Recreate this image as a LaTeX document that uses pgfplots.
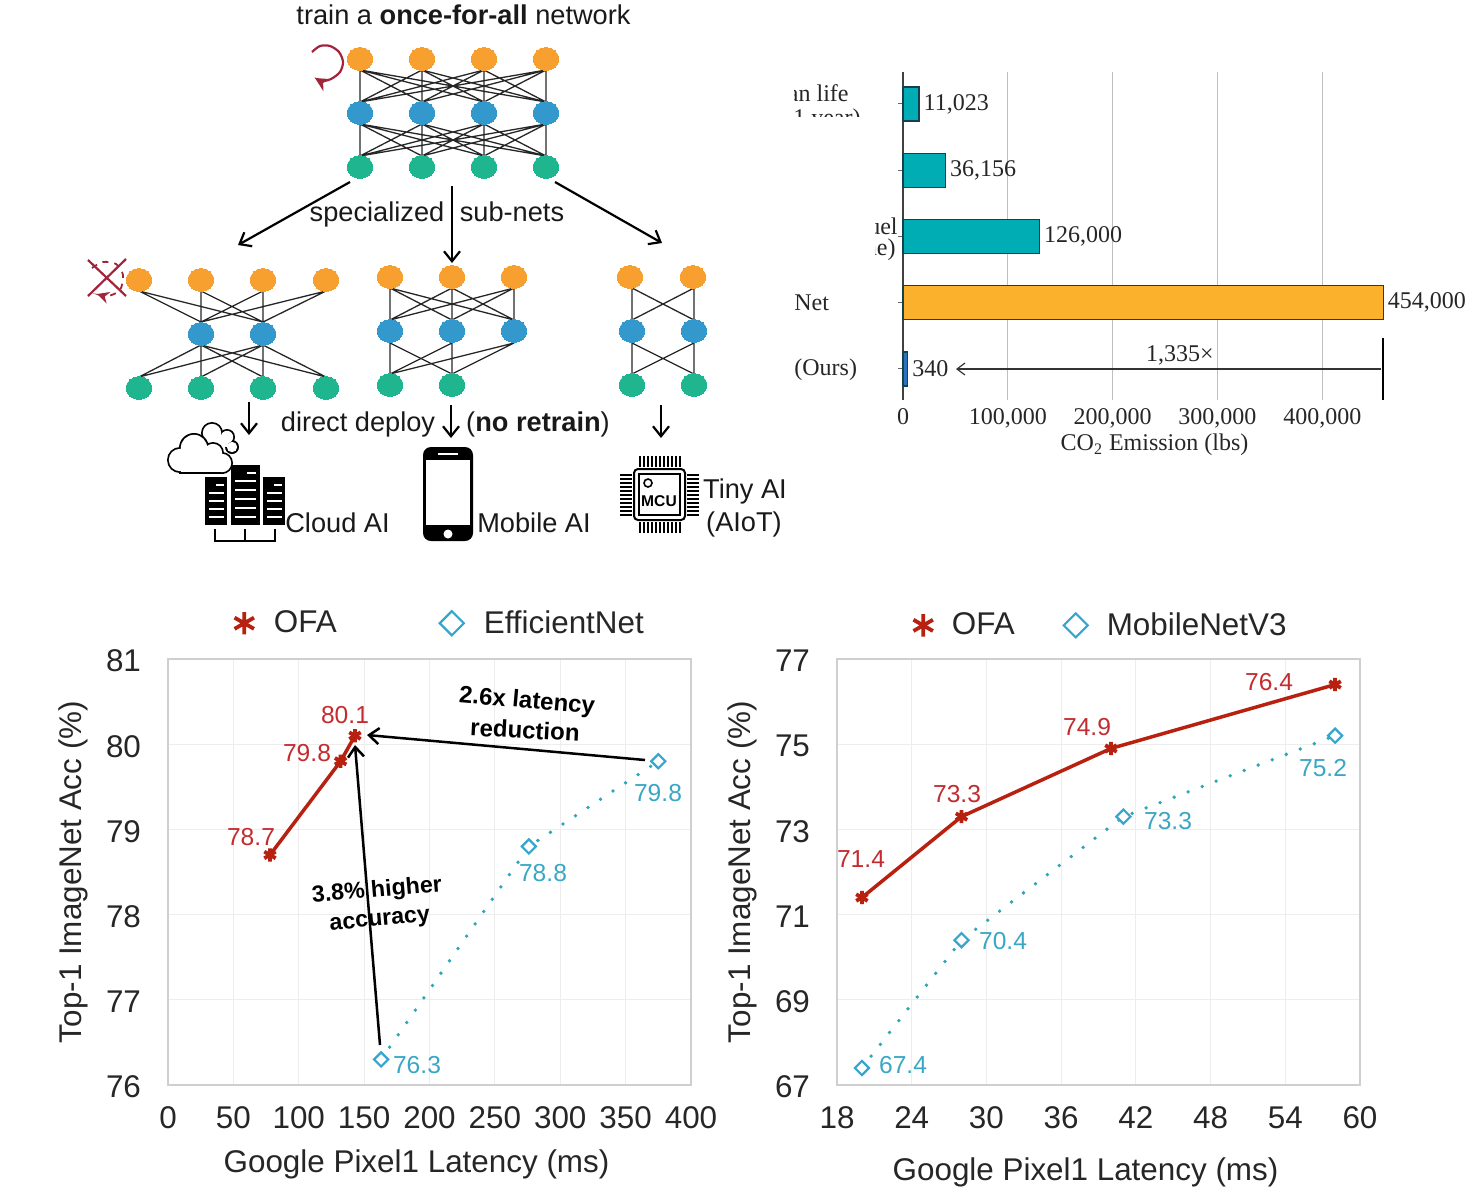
\documentclass[border=0pt]{standalone}
\usepackage{fontspec}
\setmainfont{Liberation Sans}
\newfontfamily\timesf{Liberation Serif}
\usepackage{pgfplots}
\usepackage{pgfplotstable}
\pgfplotsset{compat=1.18}
\usetikzlibrary{arrows.meta}
\newcommand{\fs}[1]{\fontsize{#1}{#1}\selectfont}
\definecolor{ofared}{HTML}{B8200F}
\definecolor{ofatxt}{HTML}{C42B2E}
\definecolor{cmpblue}{HTML}{35A6CF}
\definecolor{cmptxt}{HTML}{39A7C4}
\definecolor{cmpdot}{HTML}{2FA6B8}
\definecolor{norange}{HTML}{F7A030}
\definecolor{nblue}{HTML}{3399CC}
\definecolor{ngreen}{HTML}{1FB58F}
\definecolor{darkred}{HTML}{A3233A}
\definecolor{barteal}{HTML}{00ADB5}
\definecolor{barorange}{HTML}{FBB12B}
\definecolor{barblue}{HTML}{2B74BD}
\definecolor{barline}{HTML}{17404F}

\pgfplotstableread{
x y
78 78.7
132 79.8
143 80.1
}\ofaleft
\pgfplotstableread{
x y
163 76.3
276 78.8
375 79.8
}\effnet
\pgfplotstableread{
x y
20 71.4
28 73.3
40 74.9
58 76.4
}\ofaright
\pgfplotstableread{
x y
20 67.4
28 70.4
41 73.3
58 75.2
}\mbv

\pgfplotsset{
  latency/.style={
    anchor=south west,width=261.5pt,height=213pt,scale only axis,
    grid=major,grid style={draw=gray!14,line width=.6pt},
    axis line style={draw=gray!38,line width=.6pt},
    tick style={draw=none},
    font=\fs{15.7},
    /pgf/number format/assume math mode=true,
    xlabel={Google Pixel1 Latency (ms)},
    ylabel={Top-1 ImageNet Acc (\%)},
    tick label style={text=black!85},
    label style={text=black!85},
    xticklabel style={yshift=-7.5pt},
    yticklabel style={xshift=-10pt,yshift=-1pt},
    ylabel style={yshift=2pt},
    legend style={draw=none,fill=none,font=\fs{15.7},text=black!85,
      legend columns=2},
    legend image post style={scale=1.7},
    legend cell align=left,
    clip=false,
  },
  ofaline/.style={ofared,line width=1.75pt,no marks,forget plot},
  ofamark/.style={only marks,mark=asterisk,
    mark options={ofared,line width=1.9pt,solid},mark size=3.3pt},
  cmpline/.style={cmpdot,line width=1.9pt,line cap=round,
    dash pattern=on 0pt off 7.5pt,no marks,forget plot},
  cmpmark/.style={only marks,mark=square*,
    mark options={cmpblue,rotate=45,line width=1.1pt,solid,fill=white},mark size=2.5pt},
  netnode/.style={only marks,mark=*,mark size=5.7pt,color=#1,
    mark options={xscale=1.13,draw=#1,fill=#1,line width=0pt}},
  netedge/.style={black!85,line width=.65pt,line join=round,no marks},
  bigarrow/.style={black,line width=1.1pt,no marks,-{Straight Barb[length=5pt,width=8pt]}},
  chartbar/.style={xbar,bar shift=0pt,bar width=17pt,draw=barline,line width=.7pt,fill=#1},
}

\begin{document}
\begin{tikzpicture}
\path[use as bounding box] (0,0) rectangle (736pt,595pt);

% left latency chart
\begin{axis}[latency,at={(84pt,52.5pt)},
  xmin=0,xmax=400,ymin=76,ymax=81,
  xtick={0,50,...,400},ytick={76,...,81},
  xlabel style={xshift=-6.5pt,yshift=-3.5pt},
  legend style={at={(0.115,1.034)},anchor=south west},
  /tikz/every even column/.append style={column sep=49.5pt},
]
\addplot[ofaline] table {\ofaleft};
\addplot[ofamark] table {\ofaleft};
\addlegendentry{\hspace{8pt}OFA}
\addplot[cmpline] table {\effnet};
\addplot[cmpmark] table {\effnet};
\addlegendentry{\hspace{8pt}EfficientNet}
\end{axis}

% right latency chart
\begin{axis}[latency,at={(418.5pt,52.5pt)},
  xmin=18,xmax=60,ymin=67,ymax=77,
  xtick={18,24,...,60},ytick={67,69,...,77},
  xlabel style={xshift=-6.5pt,yshift=-7.5pt},
  legend style={at={(0.134,1.029)},anchor=south west},
  /tikz/every even column/.append style={column sep=22.5pt},
]
\addplot[ofaline] table {\ofaright};
\addplot[ofamark] table {\ofaright};
\addlegendentry{\hspace{7.5pt}OFA}
\addplot[cmpline] table {\mbv};
\addplot[cmpmark] table {\mbv};
\addlegendentry{\hspace{7.5pt}MobileNetV3}
\end{axis}

% CO2 bars; the figure draws each bar about 4200 lbs past its value
\begin{axis}[at={(451.5pt,395pt)},anchor=south west,scale only axis,
  width=283pt,height=164pt,
  xmin=0,xmax=540000,ymin=-0.483,ymax=4.468,y dir=reverse,
  axis lines=left,axis line style={-},
  x axis line style={draw=none},
  y axis line style={draw=black!75,line width=.6pt},
  xtick={0,100000,200000,300000,400000},
  xticklabels={0,{100,000},{200,000},{300,000},{400,000}},
  ytick={0,1,2,3,4},yticklabels={},
  tick align=outside,major tick length=2.5pt,
  xtick style={draw=none},ytick style={draw=black!60,line width=.5pt},
  x grid style={draw=gray!50,line width=.5pt},xmajorgrids,
  scaled x ticks=false,
  font=\timesf\fs{12},
  tick label style={text=black!85},label style={text=black!85},
  xticklabel style={yshift=2pt},
  xlabel={CO\textsubscript{2} Emission (lbs)},
  xlabel style={at={(axis cs:240000,4.468)},anchor=north,yshift=-13.5pt},
  point meta=explicit symbolic,
  nodes near coords,
  nodes near coords style={anchor=west,inner sep=0pt,xshift=2pt,text=black!85,font=\timesf\fs{12}},
  clip=false,
  x filter/.code={\pgfmathparse{\pgfmathresult+4200}},
]
\addplot[chartbar=barteal] coordinates {(11023,0) [{11,023}] (36156,1) [{36,156}] (126000,2) [{126,000}]};
\addplot[chartbar=barorange] coordinates {(454000,3) [{454,000}]};
\addplot[chartbar=barblue] coordinates {(340,4) [340]};
\end{axis}

% network diagram and annotations, in picture pixels
\begin{axis}[at={(0pt,0pt)},anchor=south west,scale only axis,width=736pt,height=595pt,
  xmin=0,xmax=1472,ymin=0,ymax=1190,y dir=reverse,hide axis,clip=false,
  unbounded coords=jump]

% once-for-all net
\addplot[netedge] coordinates {(360,70)(360,102)(422,70)(422,102)(484,70)(484,102)(546,70)(546,102)(360,70)
  (422,102)(546,70)(360,102)(484,70)(546,102)(422,70)(484,102)(360,70)};
\addplot[netedge] coordinates {(360,124)(360,156)(422,124)(422,156)(484,124)(484,156)(546,124)(546,156)(360,124)
  (422,156)(546,124)(360,156)(484,124)(546,156)(422,124)(484,156)(360,124)};
\addplot[netnode=norange] coordinates {(360,59)(422,59)(484,59)(546,59)};
\addplot[netnode=nblue] coordinates {(360,113)(422,113)(484,113)(546,113)};
\addplot[netnode=ngreen] coordinates {(360,167)(422,167)(484,167)(546,167)};

% sub-net 4-2-4
\addplot[netedge] coordinates {(139,291)(201,322)(201,291)(263,322)(263,291)(201,322)(326,291)(263,322)(139,291)};
\addplot[netedge] coordinates {(139,377)(201,345)(201,377)(263,345)(263,377)(201,345)(326,377)(263,345)(139,377)};
\addplot[netnode=norange] coordinates {(139,280)(201,280)(263,280)(326,280)};
\addplot[netnode=nblue] coordinates {(201,334)(263,334)};
\addplot[netnode=ngreen] coordinates {(139,388)(201,388)(263,388)(326,388)};

% sub-net 3-3-2
\addplot[netedge] coordinates {(390,288)(390,320)(452,288)(452,320)(514,288)(514,320)(390,288)(452,320)(514,288)(390,320)(452,288)(514,320)};
\addplot[netedge] coordinates {(390,343)(390,374)(452,343)(452,374)(514,343)(390,374)};
\addplot[netedge] coordinates {(390,343)(452,374)};
\addplot[netnode=norange] coordinates {(390,277)(452,277)(514,277)};
\addplot[netnode=nblue] coordinates {(390,331)(452,331)(514,331)};
\addplot[netnode=ngreen] coordinates {(390,385)(452,385)};

% sub-net 2-2-2
\addplot[netedge] coordinates {(632,288)(632,320)(694,288)(694,320)(632,288)};
\addplot[netedge] coordinates {(632,343)(632,374)(694,343)(694,374)(632,343)};
\addplot[netnode=norange] coordinates {(630,277)(693,277)};
\addplot[netnode=nblue] coordinates {(632,331)(694,331)};
\addplot[netnode=ngreen] coordinates {(632,385)(694,385)};

% arrows of the diagram
\addplot[bigarrow] coordinates {(350,182)(238,245)};
\addplot[bigarrow] coordinates {(452,186)(452,263)};
\addplot[bigarrow] coordinates {(555,182)(662,243)};
\addplot[bigarrow] coordinates {(249,402)(249,435)};
\addplot[bigarrow] coordinates {(451,405)(451,438)};
\addplot[bigarrow] coordinates {(661,405)(661,438)};

% retrain loop
\addplot[darkred,line width=1.1pt,smooth,no marks,-{Stealth[length=7pt,width=7pt]}] coordinates {
  (312,52)(320,46)(330,46)(339,52)(343,62)(340,72)(331,79)(322,81)(315,78)};

% removed node mark
\addplot[darkred,line width=1.1pt,no marks] coordinates {(88,260)(126,296)};
\addplot[darkred,line width=1.1pt,no marks] coordinates {(126,259)(88,296)};
\addplot[darkred,line width=.9pt,smooth,dashed,no marks,-{Stealth[length=6pt,width=6pt]}] coordinates {
  (92,268)(103,262)(116,264)(123,275)(120,290)(108,296)(97,294)};

% text
\node[font=\fs{13.6},text=black!90] at (463.5,15) {train a \textbf{once-for-all} network};
\node[font=\fs{13.6},text=black!90,anchor=base] at (377,221) {specialized};
\node[font=\fs{13.6},text=black!90,anchor=base] at (512,221) {sub-nets};
\node[font=\fs{13.6},text=black!90,anchor=base] at (358,431) {direct deploy};
\node[font=\fs{13.6},text=black!90,anchor=base] at (538,431) {(\textbf{no retrain})};
\node[font=\fs{13.6},text=black!90] at (337.5,523) {Cloud AI};
\node[font=\fs{13.6},text=black!90] at (534,523) {Mobile AI};
\node[font=\fs{13.6},text=black!90] at (745,491.5) {Tiny AI};
\node[font=\fs{13.6},text=black!90] at (744,524.5) {(AIoT)};

% servers
\fill[black] (205,477) rectangle (227,525);
\fill[black] (231,465) rectangle (260,525);
\fill[black] (263,477) rectangle (285,525);
\pgfplotsinvokeforeach{493,501,509,517}{
  \draw[white,line width=.7pt] (209,#1)--(224,#1);
  \draw[white,line width=.7pt] (267,#1)--(282,#1);}
\pgfplotsinvokeforeach{481,490,499,508,517}{
  \draw[white,line width=.7pt] (235,#1)--(256,#1);}
\draw[white,line width=.9pt] (216,485)--(224,485);
\draw[white,line width=.9pt] (247,473)--(256,473);
\draw[white,line width=.9pt] (274,485)--(282,485);
\draw[black,line width=.7pt] (215,529)--(215,541)--(275,541)--(275,529);
\draw[black,line width=.7pt] (245,529)--(245,541);

% clouds
\fill[black] (212,433) circle[radius=11];
\fill[black] (227,437) circle[radius=8];
\fill[black] (232,447) circle[radius=7];
\fill[white] (212,433) circle[radius=9.2];
\fill[white] (227,437) circle[radius=6.2];
\fill[white] (232,447) circle[radius=5.2];
\fill[white] (205,435) rectangle (228,447);
\fill[black] (179,462) rectangle (224,474);
\fill[black] (180,460) circle[radius=13];
\fill[black] (194,448) circle[radius=15];
\fill[black] (213,453) circle[radius=11];
\fill[black] (222,463) circle[radius=11];
\fill[white] (181,462) rectangle (224,472);
\fill[white] (180,460) circle[radius=11.2];
\fill[white] (194,448) circle[radius=13.2];
\fill[white] (213,453) circle[radius=9.2];
\fill[white] (222,463) circle[radius=9.2];
\fill[white] (185,450) rectangle (218,466);

% phone
\fill[black,rounded corners=4pt] (423,447) rectangle (473,541);
\fill[white] (426,460) rectangle (470,525);
\draw[white,line width=1pt] (438,453.5)--(458,453.5);
\fill[white] (448,534) circle[radius=4.5];

% MCU chip
\draw[black,line width=1pt,rounded corners=2pt] (634,469) rectangle (685,520);
\draw[black,line width=1pt] (639,474) rectangle (680,515);
\draw[black,line width=.8pt] (648,483) circle[radius=4];
\node[font=\bfseries\fs{7.8},inner sep=0pt] at (659,501) {MCU};
\pgfplotsinvokeforeach{640,644,648,652,656,660,664,668,672,676,680}{
  \draw[black,line width=.55pt] (#1,456)--(#1,467);
  \draw[black,line width=.55pt] (#1,522)--(#1,533);}
\pgfplotsinvokeforeach{475,479,483,487,491,495,499,503,507,511,515}{
  \draw[black,line width=.55pt] (620,#1)--(632,#1);
  \draw[black,line width=.55pt] (687,#1)--(699,#1);}

% bar chart labels, cut off as in the figure
\begin{scope}
\clip (794,80) rectangle (870,116);
\node[font=\timesf\fs{12},anchor=east,inner sep=0pt,text=black!85] at (849,93) {Human life};
\node[font=\timesf\fs{12},anchor=east,inner sep=0pt,text=black!85] at (861,120) {1 year)};
\end{scope}
\begin{scope}
\clip (875,210) rectangle (900,265);
\node[font=\timesf\fs{12},anchor=east,inner sep=0pt,text=black!85] at (898,226) {fuel};
\node[font=\timesf\fs{12},anchor=east,inner sep=0pt,text=black!85] at (896,250) {time)};
\end{scope}
\node[font=\timesf\fs{12},anchor=west,inner sep=0pt,text=black!85] at (794,303) {Net};
\node[font=\timesf\fs{12},anchor=west,inner sep=0pt,text=black!85] at (794,370) {(Ours)};
\node[font=\timesf\fs{12},text=black!85,inner sep=0pt] at (1180,355) {1,335×};
\addplot[black!80,line width=.6pt,no marks,-{Straight Barb[length=4pt,width=6pt]}] coordinates {(1381,369)(956,369)};
\addplot[black,line width=.8pt,no marks] coordinates {(1383,338)(1383,400)};

% value labels, left chart
\node[font=\fs{12.3},text=ofatxt,inner sep=0pt] at (345,715) {80.1};
\node[font=\fs{12.3},text=ofatxt,inner sep=0pt] at (307,753) {79.8};
\node[font=\fs{12.3},text=ofatxt,inner sep=0pt] at (251,837) {78.7};
\node[font=\fs{12.3},text=cmptxt,inner sep=0pt] at (658,793) {79.8};
\node[font=\fs{12.3},text=cmptxt,inner sep=0pt] at (543,873) {78.8};
\node[font=\fs{12.3},text=cmptxt,inner sep=0pt] at (417,1065) {76.3};
% value labels, right chart
\node[font=\fs{12.3},text=ofatxt,inner sep=0pt] at (861,859) {71.4};
\node[font=\fs{12.3},text=ofatxt,inner sep=0pt] at (957,794) {73.3};
\node[font=\fs{12.3},text=ofatxt,inner sep=0pt] at (1087,727) {74.9};
\node[font=\fs{12.3},text=ofatxt,inner sep=0pt] at (1269,682) {76.4};
\node[font=\fs{12.3},text=cmptxt,inner sep=0pt] at (903,1065) {67.4};
\node[font=\fs{12.3},text=cmptxt,inner sep=0pt] at (1003,941) {70.4};
\node[font=\fs{12.3},text=cmptxt,inner sep=0pt] at (1168,821) {73.3};
\node[font=\fs{12.3},text=cmptxt,inner sep=0pt] at (1323,768) {75.2};

% callouts
\addplot[bigarrow,line width=1.25pt] coordinates {(645,760)(367,735)};
\addplot[bigarrow,line width=1.25pt] coordinates {(380,1045)(355,745)};
\node[font=\bfseries\fs{12},rotate=-5,inner sep=0pt] at (527,702) {2.6x latency};
\node[font=\bfseries\fs{12},rotate=-3,inner sep=0pt] at (525,730) {reduction};
\node[font=\bfseries\fs{11.6},rotate=5,inner sep=0pt] at (377,891) {3.8\% higher};
\node[font=\bfseries\fs{11.6},rotate=5,inner sep=0pt] at (380,922) {accuracy};
\end{axis}
\end{tikzpicture}
\end{document}
